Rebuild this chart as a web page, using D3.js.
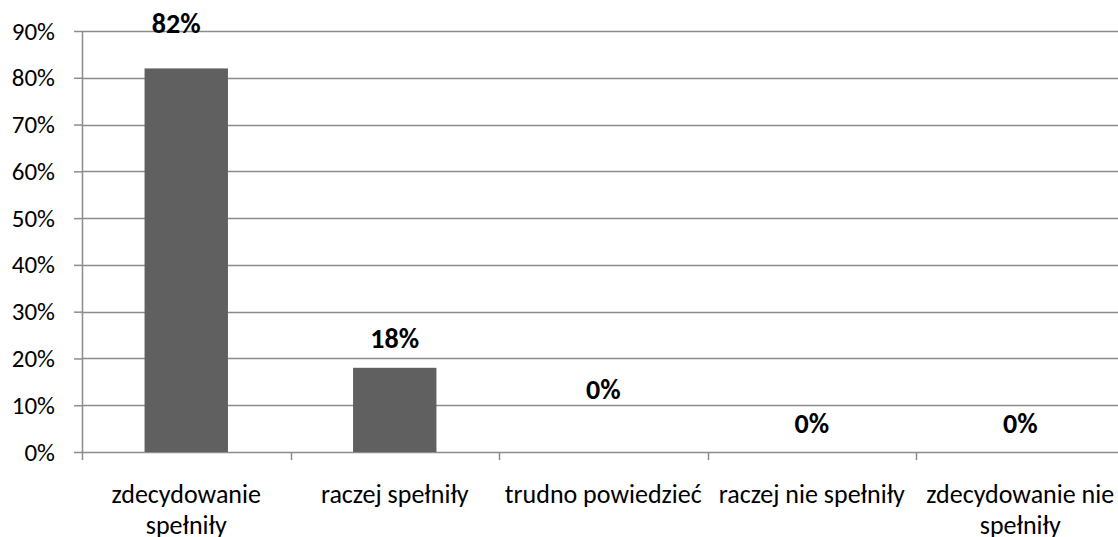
<!DOCTYPE html>
<html>
<head>
<meta charset="utf-8">
<script src="https://cdn.jsdelivr.net/npm/d3@7"></script>
<style>
  body { margin: 0; background: #fff; }
  text { font-family: Carlito, Calibri, "Open Sans", sans-serif; }
</style>
</head>
<body>
<div id="chart"></div>
<script>
// Data
let categories = ['zdecydowanie spełniły', 'raczej spełniły', 'trudno powiedzieć', 'raczej nie spełniły', 'zdecydowanie nie spełniły'];
let tickLines = [['zdecydowanie', 'spełniły'], ['raczej spełniły'], ['trudno powiedzieć'], ['raczej nie spełniły'], ['zdecydowanie nie', 'spełniły']];
let values = [82, 18, 0, 0, 0];
let yTicks = [0, 10, 20, 30, 40, 50, 60, 70, 80, 90];
// label nudges in px (left / above bar top), as placed in the original
let labelDx = [-10, 0, 0, 0, 0];
let labelDy = [44, 29, 62, 28.5, 28.5];

let svgWidth = 1118;
let svgHeight = 537;
let margins = { top: 31, left: 82 };
let chartWidth = 208.5 * 5;
let chartHeight = 452 - 31;

let svg = d3.select('#chart').append('svg')
    .attr('width', svgWidth)
    .attr('height', svgHeight);
let chart = svg.append('g')
    .attr('transform', `translate(${margins.left}, ${margins.top})`);

let xScale = d3.scaleBand().domain(categories).range([0, chartWidth]).paddingInner(0.6).paddingOuter(0.3);
let yScale = d3.scaleLinear().domain([0, 90]).range([chartHeight, 0]);

// Gridlines
chart.selectAll('line.grid')
    .data(yTicks).enter()
    .append('line')
    .attr('class', 'grid')
    .attr('x1', 0)
    .attr('x2', chartWidth)
    .attr('y1', d => Math.round(yScale(d)) + 0.5)
    .attr('y2', d => Math.round(yScale(d)) + 0.5)
    .attr('stroke', '#8c8c8c')
    .attr('stroke-width', 1.5);

// Bars
chart.selectAll('rect.bar')
    .data(values).enter()
    .append('rect')
    .attr('class', 'bar')
    .attr('x', (d, i) => xScale(categories[i]))
    .attr('width', xScale.bandwidth())
    .attr('y', d => yScale(d))
    .attr('height', d => chartHeight - yScale(d))
    .attr('fill', '#606060');

// Y axis
let yAxis = d3.axisLeft(yScale).tickValues(yTicks).tickFormat(d => d + '%').tickSize(8).tickPadding(19);
let yAxisTag = chart.append('g').call(yAxis);
yAxisTag.select('.domain').attr('stroke', '#8c8c8c').attr('stroke-width', 1.5).attr('d', `M0.5,0V${chartHeight}`);
yAxisTag.selectAll('.tick line').attr('stroke', '#8c8c8c').attr('stroke-width', 1.5);
yAxisTag.selectAll('.tick text').attr('fill', '#000').style('font-size', '25px');

// X axis ticks (between categories)
let step = xScale.step();
chart.selectAll('line.xtick')
    .data(d3.range(categories.length + 1)).enter()
    .append('line')
    .attr('class', 'xtick')
    .attr('x1', i => Math.round(i * step) + 0.5)
    .attr('x2', i => Math.round(i * step) + 0.5)
    .attr('y1', chartHeight)
    .attr('y2', chartHeight + 8)
    .attr('stroke', '#8c8c8c')
    .attr('stroke-width', 1.5);

// Category labels
let catLabel = chart.selectAll('text.cat')
    .data(tickLines).enter()
    .append('text')
    .attr('class', 'cat')
    .attr('text-anchor', 'middle')
    .style('font-size', '26px')
    .attr('fill', '#000');
catLabel.selectAll('tspan')
    .data((d, i) => d.map(line => ({ line, i })))
    .enter()
    .append('tspan')
    .attr('x', d => xScale(categories[d.i]) + xScale.bandwidth() / 2)
    .attr('y', (d, j) => chartHeight + 51 + j * 31)
    .text(d => d.line);

// Value labels
chart.selectAll('text.val')
    .data(values).enter()
    .append('text')
    .attr('class', 'val')
    .attr('text-anchor', 'middle')
    .attr('x', (d, i) => xScale(categories[i]) + xScale.bandwidth() / 2 + labelDx[i])
    .attr('y', (d, i) => yScale(d) - labelDy[i] + 9)
    .style('font-size', '28px')
    .style('font-weight', 'bold')
    .attr('fill', '#000')
    .text(d => d + '%');
</script>
</body>
</html>
